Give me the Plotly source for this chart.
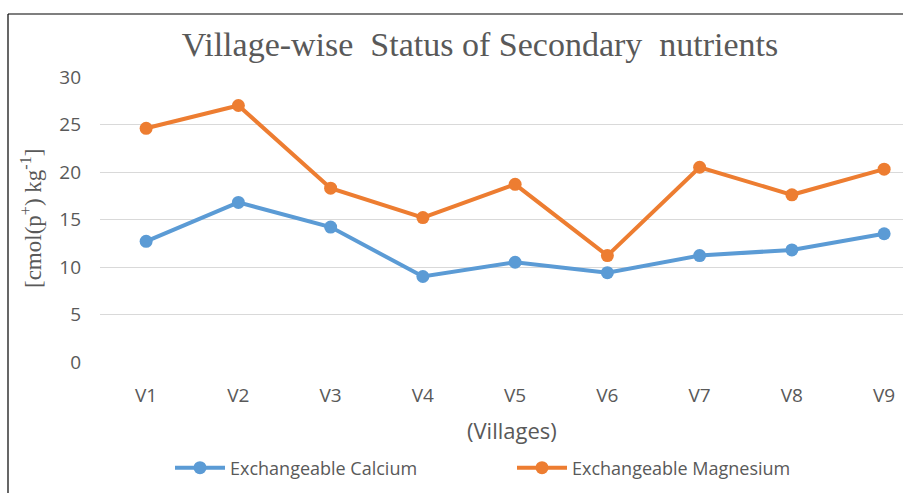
import plotly.graph_objects as go

villages = ["V1", "V2", "V3", "V4", "V5", "V6", "V7", "V8", "V9"]
calcium = [12.7, 16.8, 14.2, 9.0, 10.5, 9.4, 11.2, 11.8, 13.5]
magnesium = [24.6, 27.0, 18.3, 15.2, 18.7, 11.2, 20.5, 17.6, 20.3]
y_ticks = [0, 5, 10, 15, 20, 25, 30]

W, H = 903, 493
ml, mr, mt, mb = 100, 0, 77, 131

fig = go.Figure()
fig.add_trace(go.Scatter(x=list(range(len(villages))), y=calcium, mode="lines+markers",
                         name="Exchangeable Calcium",
                         line=dict(color="#5B9BD5", width=4),
                         marker=dict(color="#5B9BD5", size=13)))
fig.add_trace(go.Scatter(x=list(range(len(villages))), y=magnesium, mode="lines+markers",
                         name="Exchangeable Magnesium",
                         line=dict(color="#ED7D31", width=4),
                         marker=dict(color="#ED7D31", size=13)))

pw = W - ml - mr
ph = H - mt - mb
def px(x):
    return (x - ml) / pw
def py(y):
    return (H - mb - y) / ph

grey = "#595959"
fig.update_layout(
    width=W, height=H,
    margin=dict(l=ml, r=mr, t=mt, b=mb),
    paper_bgcolor="white", plot_bgcolor="white",
    title=dict(text="Village-wise  Status of Secondary  nutrients",
               font=dict(family="Liberation Serif", size=34, color=grey),
               x=480 / W, xanchor="center", y=1 - 44 / H, yanchor="middle"),
    xaxis=dict(tickmode="array", tickvals=list(range(len(villages))), ticktext=villages,
               range=[-0.5, -0.5 + pw / 92.25], showgrid=False, zeroline=False,
               showline=False, ticks="", ticklabelstandoff=20,
               tickfont=dict(family="Open Sans", size=19, color=grey)),
    yaxis=dict(range=[0, 30], tickvals=y_ticks, showgrid=True, gridcolor="#D9D9D9",
               gridwidth=1, zeroline=False, showline=False, ticks="", ticklabelstandoff=18,
               tickfont=dict(family="Open Sans", size=19, color=grey)),
    annotations=[
        dict(text="[cmol(p<sup>+</sup>) kg<sup>-1</sup>]", xref="paper", yref="paper",
             x=px(31), y=py(219), xanchor="center", yanchor="middle", textangle=-90,
             showarrow=False, font=dict(family="Liberation Serif", size=23, color=grey)),
        dict(text="(Villages)", xref="paper", yref="paper",
             x=px(512), y=py(430), xanchor="center", yanchor="middle",
             showarrow=False, font=dict(family="Open Sans", size=22, color=grey)),
    ],
    legend=dict(orientation="h", x=px(170), xanchor="left", y=py(468), yanchor="middle",
                font=dict(family="Open Sans", size=18, color=grey),
                itemwidth=50, traceorder="normal", entrywidth=277),
    shapes=[
        dict(type="line", xref="paper", yref="paper", x0=px(8), x1=px(W + 5), y0=py(14), y1=py(14),
             line=dict(color="#000000", width=1.2)),
        dict(type="line", xref="paper", yref="paper", x0=px(8), x1=px(8), y0=py(14), y1=py(H + 5),
             line=dict(color="#000000", width=1.2)),
    ],
)

fig.write_html("out.html", config={"displayModeBar": False},
               post_script="document.body.style.margin='0';document.body.style.overflow='hidden';")
